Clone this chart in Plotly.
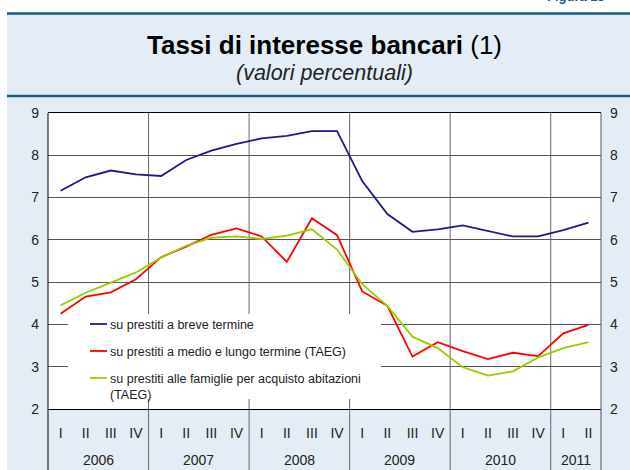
import plotly.graph_objects as go

# quarterly periods 2006 Q1 - 2011 Q2
periods = ["2006 I", "2006 II", "2006 III", "2006 IV",
           "2007 I", "2007 II", "2007 III", "2007 IV",
           "2008 I", "2008 II", "2008 III", "2008 IV",
           "2009 I", "2009 II", "2009 III", "2009 IV",
           "2010 I", "2010 II", "2010 III", "2010 IV",
           "2011 I", "2011 II"]
quarter_labels = ["I", "II", "III", "IV"] * 5 + ["I", "II"]
years = ["2006", "2007", "2008", "2009", "2010", "2011"]
quarters_per_year = [4, 4, 4, 4, 4, 2]

breve = [7.16, 7.48, 7.64, 7.55, 7.51, 7.89, 8.11, 8.27, 8.40, 8.46, 8.57,
         8.57, 7.39, 6.61, 6.19, 6.25, 6.34, 6.21, 6.08, 6.08, 6.23, 6.41]
medio_lungo = [4.25, 4.66, 4.76, 5.07, 5.59, 5.84, 6.12, 6.27, 6.08, 5.48, 6.51,
               6.11, 4.78, 4.44, 3.24, 3.58, 3.37, 3.18, 3.33, 3.25, 3.79, 3.99]
abitazioni = [4.45, 4.75, 4.99, 5.23, 5.58, 5.86, 6.05, 6.08, 6.02, 6.10, 6.25,
              5.77, 4.95, 4.44, 3.71, 3.44, 2.99, 2.79, 2.89, 3.22, 3.44, 3.58]

series_names = ["su prestiti a breve termine",
                "su prestiti a medio e lungo termine (TAEG)",
                "su prestiti alle famiglie per acquisto abitazioni<br>(TAEG)"]
series_colors = ["#1a1a8c", "#ff0000", "#99cc00"]

W, H = 630, 470
ML, MR, MT, MB = 48, 29, 113, 61
PW, PH = W - ML - MR, H - MT - MB
BG = "#e4edf5"
DARK = "#175a87"
FONT = "Arial, Liberation Sans, sans-serif"


def px_x(p):
    return (p - ML) / PW


def px_y(p):
    return (H - MB - p) / PH


fig = go.Figure()
for name, vals, col in zip(series_names, [breve, medio_lungo, abitazioni], series_colors):
    fig.add_trace(go.Scatter(x=periods, y=vals, mode="lines", name=name,
                             line=dict(color=col, width=1.8), showlegend=False))
# invisible copy on the right-hand axis so that it gets drawn
fig.add_trace(go.Scatter(x=periods, y=breve, yaxis="y2", mode="lines", showlegend=False,
                         hoverinfo="skip", line=dict(color="rgba(0,0,0,0)", width=0)))

shapes = []
# white strips at top and left of the page
shapes.append(dict(type="rect", xref="paper", yref="paper", x0=px_x(-5), x1=px_x(W + 5),
                   y0=px_y(12), y1=px_y(-5), fillcolor="white", line_width=0, layer="below"))
shapes.append(dict(type="rect", xref="paper", yref="paper", x0=px_x(-5), x1=px_x(7),
                   y0=px_y(H + 5), y1=px_y(-5), fillcolor="white", line_width=0, layer="below"))
# header rules
for yy in [13.5, 96]:
    shapes.append(dict(type="line", xref="paper", yref="paper", x0=px_x(7), x1=px_x(W + 5),
                       y0=px_y(yy), y1=px_y(yy), line=dict(color=DARK, width=2.5)))
# year separators
pos = -0.5
for n in quarters_per_year[:-1]:
    pos += n
    shapes.append(dict(type="line", xref="x", yref="paper", x0=pos, x1=pos,
                       y0=px_y(H + 2), y1=1, line=dict(color="#666666", width=1), layer="below"))
# plot frame left / right extended into the axis band
shapes.append(dict(type="line", xref="paper", yref="paper", x0=0, x1=0,
                   y0=px_y(H + 2), y1=1, line=dict(color="black", width=1)))
shapes.append(dict(type="line", xref="paper", yref="paper", x0=1, x1=1,
                   y0=px_y(H + 2), y1=1, line=dict(color="#555555", width=1)))
# legend box
shapes.append(dict(type="rect", xref="paper", yref="paper", x0=px_x(68), x1=px_x(381),
                   y0=px_y(399), y1=px_y(314), fillcolor="white", line_width=0, layer="above"))
leg_y = [324, 351, 378]
for yy, col in zip(leg_y, series_colors):
    shapes.append(dict(type="line", xref="paper", yref="paper", x0=px_x(90), x1=px_x(107),
                       y0=px_y(yy), y1=px_y(yy), line=dict(color=col, width=1.8)))

annotations = []
for yy, name in zip(leg_y, series_names):
    annotations.append(dict(xref="paper", yref="paper", x=px_x(108), y=px_y(yy - 8),
                            xanchor="left", yanchor="top", align="left", showarrow=False,
                            text=name, font=dict(size=12.5, color="#222222", family=FONT)))
# year labels
pos = -0.5
for yr, n in zip(years, quarters_per_year):
    annotations.append(dict(xref="x", yref="paper", x=pos + n / 2, y=px_y(460),
                            xanchor="center", yanchor="middle", showarrow=False,
                            text=yr, font=dict(size=14, color="#222222", family=FONT)))
    pos += n
# titles
annotations.append(dict(xref="paper", yref="paper", x=0.5, y=px_y(45), xanchor="center",
                        yanchor="middle", showarrow=False,
                        text="<b>Tassi di interesse bancari</b> (1)",
                        font=dict(size=26, color="black", family=FONT)))
annotations.append(dict(xref="paper", yref="paper", x=0.5, y=px_y(73), xanchor="center",
                        yanchor="middle", showarrow=False, text="<i>(valori percentuali)</i>",
                        font=dict(size=21.5, color="#222222", family=FONT)))
annotations.append(dict(xref="paper", yref="paper", x=px_x(545), y=px_y(6), xanchor="left",
                        yanchor="bottom", showarrow=False, text="<b>Figura 13</b>",
                        font=dict(size=13, color=DARK, family=FONT)))

fig.update_layout(
    width=W, height=H,
    margin=dict(l=ML, r=MR, t=MT, b=MB),
    paper_bgcolor=BG, plot_bgcolor="white",
    font=dict(family=FONT, size=14, color="#222222"),
    shapes=shapes, annotations=annotations,
    xaxis=dict(type="category", range=[-0.5, len(periods) - 0.5], tickvals=periods,
               ticktext=quarter_labels, ticks="", showgrid=False, zeroline=False,
               showline=True, mirror=True, linecolor="black", linewidth=1,
               ticklabelstandoff=11, tickfont=dict(size=14)),
    yaxis=dict(range=[2, 9], tickvals=list(range(2, 10)), ticks="", showgrid=True,
               gridcolor="#555555", gridwidth=1, zeroline=False, showline=False,
               ticklabelstandoff=8, tickfont=dict(size=14)),
    yaxis2=dict(range=[2, 9], tickvals=list(range(2, 10)), ticks="", overlaying="y",
                side="right", showgrid=False, zeroline=False, showline=False,
                ticklabelstandoff=8, tickfont=dict(size=14)),
)

# the page's default body margin would shift the figure by 8px
fig.write_html("out.html", config={"displayModeBar": False},
               post_script="document.body.style.margin='0';")
